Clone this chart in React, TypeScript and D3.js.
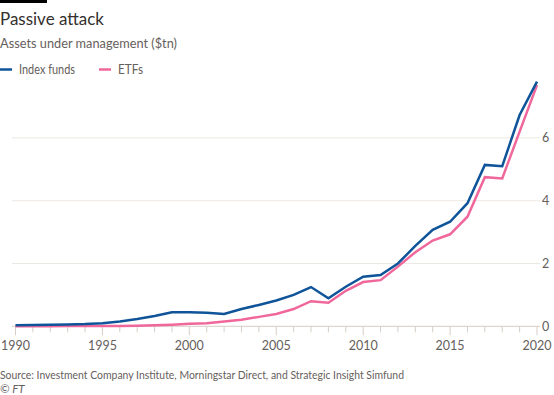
import React from 'react';
import * as d3 from 'd3';

const years = d3.range(1990, 2021);
const indexFunds = [
  0.03, 0.04, 0.05, 0.06, 0.07, 0.1, 0.15, 0.23, 0.33, 0.45, 0.45,
  0.43, 0.39, 0.55, 0.68, 0.82, 1.0, 1.25, 0.89, 1.26, 1.58,
  1.63, 2.0, 2.56, 3.07, 3.33, 3.92, 5.14, 5.1, 6.73, 7.79
];
const etfs = [
  0.0, 0.0, 0.0, 0.01, 0.01, 0.01, 0.01, 0.02, 0.03, 0.05, 0.08,
  0.1, 0.15, 0.21, 0.3, 0.39, 0.55, 0.8, 0.75, 1.13, 1.41,
  1.47, 1.9, 2.36, 2.73, 2.93, 3.49, 4.75, 4.71, 6.2, 7.68
];
const yTicks = [0, 2, 4, 6];
const xLabels = [1990, 1995, 2000, 2005, 2010, 2015, 2020];

const series = [
  { name: 'Index funds', values: indexFunds, color: '#0f5499', lx: 0, tw: 56 },
  { name: 'ETFs', values: etfs, color: '#f0679b', lx: 99, tw: 25 }
];

const W = 554,
  H = 395;
const font = 'Lato, sans-serif';
const grey = '#66605c';

export default function App() {
  const x = d3.scaleLinear().domain([1990, 2020]).range([15.5, 537]);
  const y = d3.scaleLinear().domain([0, 6]).range([326.3, 137.9]);

  const line = d3
    .line<number>()
    .x((d, i) => x(years[i]))
    .y(d => y(d));

  return (
    <svg
      width={W}
      height={H}
      style={{ position: 'absolute', left: 0, top: 0, background: '#fff' }}
      fontFamily={font}
    >
      <rect x={0} y={0} width={47} height={3} fill="#000" />
      <text x={0} y={25} fontSize={18} fill="#33302e" textLength={104} lengthAdjust="spacingAndGlyphs">
        Passive attack
      </text>
      <text x={0} y={48} fontSize={13} fill={grey} textLength={177} lengthAdjust="spacingAndGlyphs">
        Assets under management ($tn)
      </text>

      {series.map(s => (
        <g key={s.name}>
          <line x1={s.lx} x2={s.lx + 12} y1={69.5} y2={69.5} stroke={s.color} strokeWidth={2.5} />
          <text
            x={s.lx + 19}
            y={74}
            fontSize={12.5}
            fill={grey}
            textLength={s.tw}
            lengthAdjust="spacingAndGlyphs"
          >
            {s.name}
          </text>
        </g>
      ))}

      {yTicks.map(t => (
        <g key={t}>
          <line
            x1={12}
            x2={540}
            y1={y(t)}
            y2={y(t)}
            stroke={t === 0 ? '#d6cec6' : '#ece8e4'}
            strokeWidth={1}
          />
          <text x={542} y={y(t) + 4.5} fontSize={12.5} fill={grey}>
            {t}
          </text>
        </g>
      ))}

      {years.map(yr => (
        <line
          key={yr}
          x1={x(yr)}
          x2={x(yr)}
          y1={y(0)}
          y2={y(0) + (yr % 5 === 0 ? 9 : 6)}
          stroke="#d6cec6"
          strokeWidth={1}
        />
      ))}
      {xLabels.map(yr => (
        <text key={yr} x={x(yr)} y={350} fontSize={12.5} fill={grey} textAnchor="middle">
          {yr}
        </text>
      ))}

      {series
        .slice()
        .reverse()
        .map(s => (
          <path
            key={s.name}
            d={line(s.values) || ''}
            fill="none"
            stroke={s.color}
            strokeWidth={2.5}
            strokeLinejoin="miter"
          />
        ))}

      <text x={0} y={379} fontSize={11.5} fill={grey} textLength={404} lengthAdjust="spacingAndGlyphs">
        Source: Investment Company Institute, Morningstar Direct, and Strategic Insight Simfund
      </text>
      <text x={0} y={393} fontSize={11.5} fill={grey} fontStyle="italic">
        © FT
      </text>
    </svg>
  );
}
